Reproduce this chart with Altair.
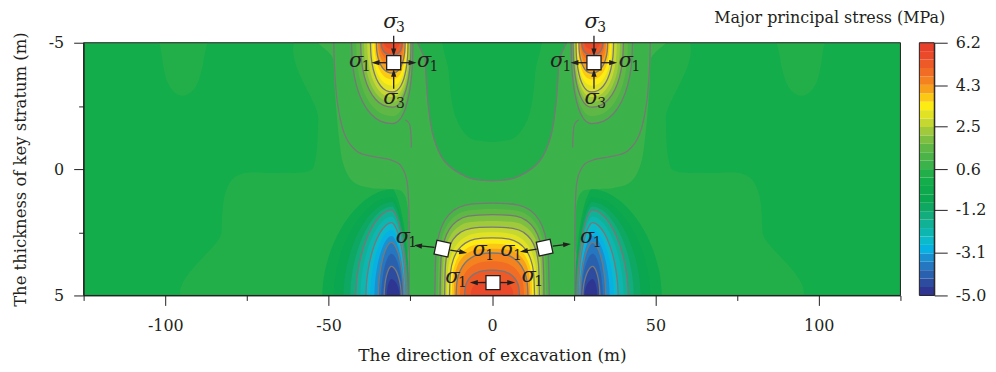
import math
import altair as alt
import pandas as pd

# ---------------- colour bands: 30 levels from -5.0 to 6.2 MPa ----------------
VMIN, VMAX, NBANDS = -5.0, 6.2, 30
BAND_COLORS = [
    "#2E3692", "#2D4C9F", "#2A61AF", "#2577BF", "#1A90D0",
    "#07B2E3", "#0BBBCB", "#0EB6B0", "#11B196", "#13AC7C",
    "#0EA862", "#0BA650", "#0FA94D", "#14AD4B", "#22AF4A",
    "#3CB34A", "#4BB348", "#5FB746", "#7CBF41", "#A0C93B",
    "#C4D831", "#E2E224", "#FDEB14", "#FBC813", "#F7A01B",
    "#F4831F", "#F16C24", "#EE5928", "#EB4A2A", "#E8412B",
]
CB_LABELS = [6.2, 4.3, 2.5, 0.6, -1.2, -3.1, -5.0]
X_TICKS = [-125, -100, -75, -50, -25, 0, 25, 50, 75, 100, 125]
Y_TICKS = [-5, -2.5, 0, 2.5, 5]
BG_BAND = 13

# ---------------- field (left half, mirrored) ----------------
# top-edge stress concentration at x = -30: band, left x, right x, lowest y, contour line
TOP_PEAK_CX = -30.5
TOP_PEAK = [
    (16, -43.0, -24.2, -1.80, 1), (17, -41.6, -24.5, -2.10, 0),
    (18, -40.2, -24.8, -2.45, 1), (19, -39.2, -25.1, -2.65, 0),
    (20, -38.2, -25.4, -2.85, 0), (21, -37.2, -25.7, -3.05, 1),
    (22, -36.6, -26.0, -3.30, 0), (23, -36.0, -26.3, -3.55, 0),
    (24, -35.4, -26.6, -3.80, 1), (25, -34.9, -26.9, -4.05, 0),
    (26, -34.4, -27.2, -4.30, 0), (27, -33.9, -27.5, -4.50, 1),
    (28, -33.0, -28.3, -4.75, 0),
]
# bottom-edge tension trough at x = -30: band, left x, right x, highest y, contour line
TROUGH_CX = -30.8
TROUGH = [
    (12, -52.0, -25.3, 0.80, 0), (11, -48.5, -25.5, 1.10, 0),
    (10, -45.5, -25.7, 1.30, 0), (9, -43.4, -25.9, 1.48, 0),
    (8, -41.7, -26.0, 1.62, 1), (7, -40.3, -26.2, 1.88, 0),
    (6, -38.6, -26.4, 2.12, 1), (5, -37.3, -26.6, 2.40, 0),
    (4, -36.0, -26.8, 2.65, 0), (3, -34.8, -27.0, 2.90, 1),
    (2, -33.9, -27.4, 3.35, 0), (1, -33.0, -27.8, 3.85, 1),
    (0, -32.2, -28.3, 4.35, 0),
]
# bottom-centre compression: band, half width, highest y, contour line, squareness
CENTER_PEAK = [
    (16, 17.5, 1.35, 1, 3.5), (17, 16.6, 1.58, 0, 3.5), (18, 15.9, 1.80, 1, 3.5),
    (19, 15.2, 2.05, 0, 3.5), (20, 14.5, 2.30, 1, 3.5), (21, 13.8, 2.50, 0, 3.0),
    (22, 13.0, 2.72, 1, 3.0), (23, 12.3, 2.95, 0, 3.0), (24, 11.7, 3.15, 0, 3.0),
    (25, 11.0, 3.32, 1, 2.5), (26, 9.8, 3.65, 0, 2.5), (27, 8.4, 4.00, 1, 2.5),
    (28, 6.5, 4.40, 0, 2.5),
]
# free-form outlines (left half, top to bottom)
STEP14 = [(-53.0, -5.8), (-53.2, -2.0), (-54.0, -0.4), (-56.5, 0.1), (-66.0, 0.15),
          (-77.0, 0.2), (-81.5, 0.9), (-82.8, 2.5), (-83.2, 5.8)]
BLOB14 = [(-101.5, -5.8), (-101.2, -4.6), (-99.2, -3.4), (-95.0, -2.9), (-90.5, -3.3),
          (-88.0, -4.5), (-87.5, -5.8)]
HALO15 = [(-48.6, -5.8), (-48.5, -4.3), (-47.8, -2.6), (-46.8, -1.2), (-45.5, -0.2),
          (-42.5, 0.5), (-37.0, 0.75), (-31.0, 0.8), (-27.5, 0.9), (-25.8, 1.5),
          (-25.4, 3.0), (-25.3, 5.8)]
TOPC14 = [(-20.6, -5.8), (-20.4, -4.2), (-19.6, -2.6), (-18.0, -1.3), (-14.5, -0.3),
          (-8.0, 0.3), (-2.5, 0.45)]
TOPCORE13 = [(-13.5, -5.8), (-13.2, -3.8), (-11.5, -2.2), (-7.5, -1.3), (-2.5, -1.1)]
# open contour lines (left half)
HALO_LINE = [(-48.4, -5.3), (-48.3, -4.3), (-47.4, -2.7), (-45.2, -1.4), (-41.5, -0.72),
             (-36.5, -0.5), (-31.5, -0.38), (-28.0, -0.15), (-26.0, 0.5), (-25.4, 1.8),
             (-25.3, 3.5), (-25.3, 5.3)]
SPUR_LINE = [(-26.5, -1.95), (-25.2, -1.75), (-24.8, -1.3), (-24.7, -0.85)]

# ---------------- annotations ----------------
SQUARES = [(-30.1, -4.21, 0), (31.2, -4.21, 0), (0.3, 4.49, 0), (-15.2, 3.15, 12), (16.1, 3.11, 348)]
ARROWS = [  # x0, y0, x1(head), y1(head), head angle
    (-30.1, -5.28, -30.1, -4.62, 180), (-30.1, -3.18, -30.1, -3.80, 0),
    (-32.2, -4.21, -35.6, -4.21, 270), (-28.0, -4.21, -24.4, -4.21, 90),
    (31.2, -5.28, 31.2, -4.62, 180), (31.2, -3.18, 31.2, -3.80, 0),
    (29.1, -4.21, 25.3, -4.21, 270), (33.3, -4.21, 37.0, -4.21, 90),
    (-1.8, 4.49, -5.5, 4.49, 270), (2.4, 4.49, 5.8, 4.49, 90),
    (-17.6, 3.10, -22.6, 3.03, 277), (-12.8, 3.21, -8.9, 3.29, 99),
    (13.7, 3.17, 9.8, 3.25, 261), (18.6, 3.05, 22.9, 2.98, 84),
]
SIGMAS = [  # x, y, subscript
    (-31.1, -5.83, "3"), (-31.1, -2.83, "3"), (-41.6, -4.29, "1"), (-20.8, -4.29, "1"),
    (30.5, -5.83, "3"), (30.5, -2.83, "3"), (19.9, -4.29, "1"), (41.0, -4.29, "1"),
    (-12.1, 4.29, "1"), (11.2, 4.25, "1"),
    (-27.3, 2.68, "1"), (-3.8, 3.19, "1"), (4.7, 3.19, "1"), (29.1, 2.68, "1"),
]


def arch(edge, cx, left, right, tip, n):
    out = 0.8 if edge > 0 else -0.8
    pts = [(left, edge + out)]
    k = 12
    for j in range(k + 1):
        t = math.pi * (1 - j / k)
        c, s = math.cos(t), math.sin(t)
        w = (cx - left) if c < 0 else (right - cx)
        pts.append((cx + w * math.copysign(abs(c) ** (2 / n), c),
                    edge - (edge - tip) * abs(s) ** (2 / n)))
    pts.append((right, edge + out))
    return pts


def mirror(pts):
    return [(-x, y) for x, y in pts]


def sym(left):
    return left + [(-x, y) for x, y in reversed(left)]


regions = []
regions.append((14, 0, sym(STEP14)))
regions.append((14, 0, BLOB14))
regions.append((14, 0, mirror(BLOB14)))
regions.append((15, 0, sym(HALO15)))
regions.append((14, 1, sym(TOPC14)))
regions.append((13, 0, sym(TOPCORE13)))
for band, L, R, top, line in TROUGH:
    p = arch(5.0, TROUGH_CX, L, R, top, 1.8)
    regions.append((band, line, p))
    regions.append((band, line, mirror(p)))
for band, L, R, bot, line in TOP_PEAK:
    p = arch(-5.0, TOP_PEAK_CX, L, R, bot, 2.2)
    regions.append((band, line, p))
    regions.append((band, line, mirror(p)))
for band, w, top, line, n in CENTER_PEAK:
    regions.append((band, line, arch(5.0, 0.0, -w, w, top, n)))

rows = []
for r, (band, line, pts) in enumerate(regions):
    for i, (x, y) in enumerate(pts):
        rows.append({"rid": f"r{r:03d}", "band": band, "line": line, "i": i, "x": x, "y": y})
field_df = pd.DataFrame(rows)

open_lines = [HALO_LINE, mirror(HALO_LINE), SPUR_LINE, mirror(SPUR_LINE)]
open_df = pd.DataFrame([{"lid": f"l{j}", "i": i, "x": x, "y": y}
                        for j, ln in enumerate(open_lines) for i, (x, y) in enumerate(ln)])

step = (VMAX - VMIN) / NBANDS
cb_df = pd.DataFrame({"band": list(range(NBANDS)),
                      "lo": [VMIN + k * step for k in range(NBANDS)],
                      "hi": [VMIN + (k + 1) * step for k in range(NBANDS)]})
sq_df = pd.DataFrame(SQUARES, columns=["x", "y", "a"])
ar_df = pd.DataFrame(ARROWS, columns=["x0", "y0", "x", "y", "a"])
sg_df = pd.DataFrame(SIGMAS, columns=["x", "y", "sub"])

# ---------------- chart ----------------
FONT = "DejaVu Serif"
INK = "#231F20"
LINE_GRAY = "#787878"
xs = alt.Scale(domain=[-125, 125], nice=False, zero=False)
ys = alt.Scale(domain=[-5, 5], reverse=True, nice=False, zero=False)
x_axis = alt.Axis(values=X_TICKS, grid=False, zindex=1,
                  labelExpr="datum.value % 50 === 0 ? replace(datum.label, '\u2212', '-') : ''",
                  tickSize={"condition": {"test": "datum.value % 50 === 0", "value": 10}, "value": 5},
                  labelPadding=12, labelOverlap=False, labelFont=FONT, labelFontSize=16,
                  labelColor=INK, tickColor=INK, domainColor=INK,
                  titleFont=FONT, titleFontSize=17, titleFontWeight="normal", titleColor=INK,
                  titlePadding=14)
y_axis = alt.Axis(values=Y_TICKS, grid=False, zindex=1,
                  labelExpr="datum.value % 5 === 0 ? replace(datum.label, '\u2212', '-') : ''",
                  tickSize={"condition": {"test": "datum.value % 5 === 0", "value": 10}, "value": 5},
                  labelPadding=10, labelOverlap=False, labelFont=FONT, labelFontSize=16,
                  labelColor=INK, tickColor=INK, domainColor=INK,
                  titleFont=FONT, titleFontSize=16.5, titleFontWeight="normal", titleColor=INK,
                  titlePadding=20)
X_TITLE = "The direction of excavation (m)"
Y_TITLE = "The thickness of key stratum (m)"
X = alt.X("x:Q", scale=xs, axis=x_axis, title=X_TITLE)
Y = alt.Y("y:Q", scale=ys, axis=y_axis, title=Y_TITLE)
band_color = alt.Color("band:O", scale=alt.Scale(domain=list(range(NBANDS)), range=BAND_COLORS), legend=None)

field = alt.Chart(field_df).mark_line(filled=True, interpolate="cardinal-closed", clip=True).encode(
    x=X, y=Y, color=band_color, detail="rid:N", order="i:Q")
contours = alt.Chart(field_df).transform_filter("datum.line == 1").mark_line(
    interpolate="cardinal-closed", clip=True, color=LINE_GRAY, strokeWidth=1.3).encode(
    x=X, y=Y, detail="rid:N", order="i:Q")
open_contours = alt.Chart(open_df).mark_line(
    interpolate="cardinal", clip=True, color=LINE_GRAY, strokeWidth=1.3).encode(
    x=X, y=Y, detail="lid:N", order="i:Q")
one = pd.DataFrame([{"k": 0}])
frame = alt.Chart(one).mark_rect(fillOpacity=0, stroke=INK, strokeWidth=1).encode(
    x=alt.datum(-125), x2=alt.datum(125), y=alt.datum(-5), y2=alt.datum(5))
rules = alt.Chart(ar_df).mark_rule(color=INK, strokeWidth=1.3).encode(
    x=alt.X("x0:Q", scale=xs, axis=x_axis, title=X_TITLE),
    y=alt.Y("y0:Q", scale=ys, axis=y_axis, title=Y_TITLE),
    x2="x:Q", y2="y:Q")
heads = alt.Chart(ar_df).mark_point(shape="M0,-1L0.62,0.9L-0.62,0.9Z", filled=True, color=INK,
                                    size=70, opacity=1).encode(
    x=X, y=Y, angle=alt.Angle("a:Q", scale=None))
squares = alt.Chart(sq_df).mark_point(shape="square", filled=True, fill="white", stroke=INK,
                                      strokeWidth=1.3, size=200, opacity=1).encode(
    x=X, y=Y, angle=alt.Angle("a:Q", scale=None))
sigma = alt.Chart(sg_df).mark_text(text="\u03c3", font=FONT, fontStyle="italic", fontSize=21,
                                   color=INK, baseline="middle", align="center").encode(x=X, y=Y)
subs = alt.Chart(sg_df).mark_text(font=FONT, fontSize=14, color=INK, baseline="middle",
                                  align="center", dx=10, dy=6).encode(x=X, y=Y, text="sub:N")

main = alt.layer(field, contours, open_contours, frame, rules, heads, squares, sigma, subs)

cb_scale = alt.Scale(domain=[VMIN, VMAX], nice=False, zero=False)
cb_axis = alt.Axis(orient="right", values=CB_LABELS, offset=34, grid=False, zindex=1,
                   labelExpr="replace(format(datum.value, '.1f'), '\u2212', '-')",
                   tickSize=13, labelPadding=8, labelOverlap=False, labelFont=FONT,
                   labelFontSize=16, labelColor=INK, tickColor=INK, domainColor=INK, title=None)
cb_rect = alt.Chart(cb_df).mark_rect().encode(
    x=alt.value(840), x2=alt.value(855),
    y=alt.Y("lo:Q", scale=cb_scale, axis=cb_axis), y2="hi:Q",
    color=alt.Color("band:O", scale=alt.Scale(domain=list(range(NBANDS)), range=BAND_COLORS), legend=None))
cb_border = alt.Chart(one).mark_rect(fillOpacity=0, stroke=INK, strokeWidth=1).encode(
    x=alt.value(840), x2=alt.value(855), y=alt.datum(VMIN), y2=alt.datum(VMAX))
cb_title = alt.Chart(one).mark_text(font=FONT, fontSize=16, color=INK, align="right",
                                    baseline="middle").encode(
    x=alt.value(866), y=alt.value(-25), text=alt.value("Major principal stress (MPa)"))
cbar = alt.layer(cb_rect, cb_border, cb_title)

chart = alt.layer(main, cbar).resolve_scale(y="independent", color="independent").properties(
    width=821, height=254,
    autosize=alt.AutoSizeParams(type="none"),
    padding={"left": 76, "top": 34, "right": 88, "bottom": 70},
).configure_view(fill=BAND_COLORS[BG_BAND], strokeWidth=0)

chart.save("out.html", embed_options={"renderer": "svg", "actions": False})
